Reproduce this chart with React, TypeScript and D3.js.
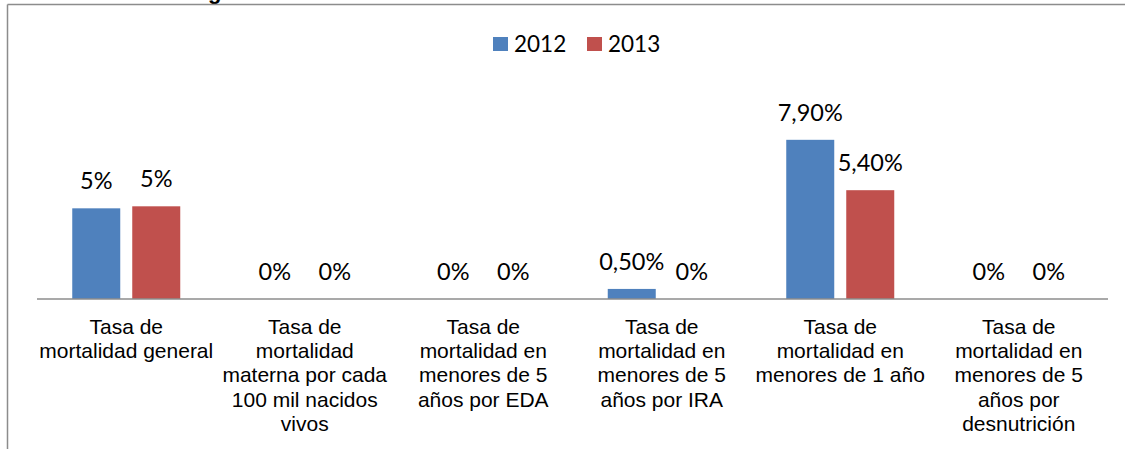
import React from 'react';
import * as d3 from 'd3';

// categories (already wrapped the way the original shows them)
const categories = [
  'Tasa de\nmortalidad general',
  'Tasa de\nmortalidad\nmaterna por cada\n100 mil nacidos\nvivos',
  'Tasa de\nmortalidad en\nmenores de 5\naños por EDA',
  'Tasa de\nmortalidad en\nmenores de 5\naños por IRA',
  'Tasa de\nmortalidad en\nmenores de 1 año',
  'Tasa de\nmortalidad en\nmenores de 5\naños por\ndesnutrición'
];

const seriesNames = ['2012', '2013'];
const seriesColors = ['#4F81BD', '#C0504D'];

// values in percent
const values2012 = [4.5, 0, 0, 0.5, 7.9, 0];
const values2013 = [4.6, 0, 0, 0, 5.4, 0];

// data labels as printed in the chart
const labels2012 = ['5%', '0%', '0%', '0,50%', '7,90%', '0%'];
const labels2013 = ['5%', '0%', '0%', '0%', '5,40%', '0%'];

const W = 1125;
const H = 449;
const axisY = 299;

const App = () => {
  const x0 = d3.scaleBand<number>()
    .domain(categories.map((_, i) => i))
    .range([37, 1108]);

  const x1 = d3.scaleBand<string>()
    .domain(seriesNames)
    .range([35.25, 143.25])
    .paddingInner(0.2);

  const y = d3.scaleLinear()
    .domain([0, 8])
    .range([axisY, axisY - 8 * 20.15]);

  const series = [
    { name: '2012', values: values2012, labels: labels2012, color: seriesColors[0] },
    { name: '2013', values: values2013, labels: labels2013, color: seriesColors[1] }
  ];

  const labelFont = 'Lato, "Open Sans", sans-serif';
  const catFont = '"Liberation Sans", Arial, sans-serif';

  return (
    <svg width={W} height={H} style={{ position: 'absolute', left: 0, top: 0 }}>
      <rect x={0} y={0} width={W} height={H} fill="#fff" />

      {/* cut-off title, only the descender shows */}
      <text x={208} y={-1} fontFamily={catFont} fontWeight="bold" fontSize={22} fill="#000">g</text>

      {/* chart frame */}
      <line x1={7.5} x2={W} y1={4.5} y2={4.5} stroke="#8c8c8c" strokeWidth={1.5} />
      <line x1={7.5} x2={7.5} y1={4.5} y2={H} stroke="#8c8c8c" strokeWidth={1.5} />

      {/* legend */}
      <g fontFamily={labelFont} fontSize={22.5} fill="#000">
        <rect x={493} y={37} width={15} height={14} fill={seriesColors[0]} />
        <text x={514} y={51.5}>{seriesNames[0]}</text>
        <rect x={587} y={37} width={15} height={14} fill={seriesColors[1]} />
        <text x={608} y={51.5}>{seriesNames[1]}</text>
      </g>

      {/* bars */}
      {series.map(s => (
        <g key={s.name}>
          {s.values.map((v, i) => (
            <rect
              key={i}
              x={(x0(i) ?? 0) + (x1(s.name) ?? 0)}
              y={y(v)}
              width={x1.bandwidth()}
              height={axisY - y(v)}
              fill={s.color}
            />
          ))}
        </g>
      ))}

      {/* data labels */}
      {series.map(s => (
        <g key={s.name + '-lbl'} fontFamily={labelFont} fontSize={23.5} fill="#000" textAnchor="middle">
          {s.labels.map((t, i) => (
            <text
              key={i}
              x={(x0(i) ?? 0) + (x1(s.name) ?? 0) + x1.bandwidth() / 2}
              y={y(s.values[i]) - 19}
            >
              {t}
            </text>
          ))}
        </g>
      ))}

      {/* x axis */}
      <line x1={37} x2={1108} y1={axisY} y2={axisY} stroke="#8c8c8c" strokeWidth={1.5} />

      {/* category labels */}
      <g fontFamily={catFont} fontSize={21} fill="#000" textAnchor="middle">
        {categories.map((c, i) => (
          <text key={i} x={(x0(i) ?? 0) + x0.bandwidth() / 2} y={334}>
            {c.split('\n').map((line, j) => (
              <tspan key={j} x={(x0(i) ?? 0) + x0.bandwidth() / 2} y={334 + j * 24.2}>{line}</tspan>
            ))}
          </text>
        ))}
      </g>
    </svg>
  );
};

export default App;
